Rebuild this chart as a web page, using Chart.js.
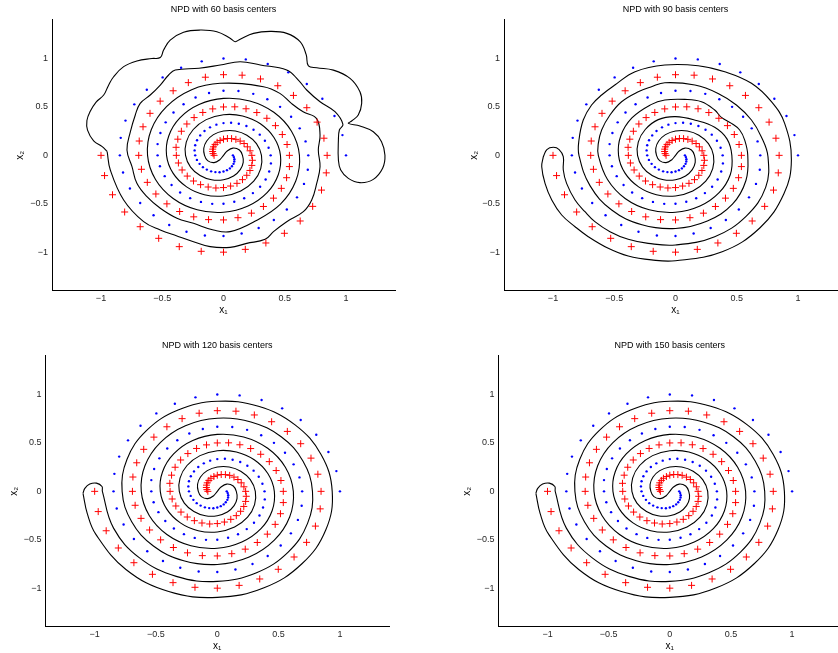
<!DOCTYPE html>
<html>
<head>
<meta charset="utf-8">
<title>NPD basis centers</title>
<script src="https://cdn.jsdelivr.net/npm/chart.js@4.4.1/dist/chart.umd.min.js"></script>
<style>
  html, body { margin: 0; padding: 0; background: #fff; width: 838px; height: 653px; overflow: hidden; }
  canvas { position: absolute; }
</style>
</head>
<body>
<canvas id="p60"></canvas>
<canvas id="p90"></canvas>
<canvas id="p120"></canvas>
<canvas id="p150"></canvas>
<script>
// two-spiral training points
const redX = [-1,-0.971,-0.906,-0.807,-0.680,-0.529,-0.361,-0.182,0,0.178,0.346,0.497,0.626,0.728,0.800,0.839,
  0.846,0.820,0.764,0.680,0.571,0.443,0.302,0.152,0,-0.148,-0.287,-0.411,-0.517,-0.600,-0.657,-0.688,
  -0.692,-0.670,-0.622,-0.552,-0.462,-0.358,-0.243,-0.122,0,0.118,0.228,0.326,0.408,0.472,0.515,0.538,
  0.538,0.519,0.480,0.424,0.354,0.272,0.184,0.092,0,-0.088,-0.169,-0.240,-0.299,-0.344,-0.373,-0.387,
  -0.385,-0.368,-0.338,-0.296,-0.245,-0.187,-0.125,-0.062,0,0.058,0.110,0.155,0.190,0.216,0.231,0.236,
  0.231,0.217,0.195,0.168,0.136,0.101,0.066,0.032,0,-0.028,-0.052,-0.069,-0.082,-0.088,-0.089,-0.085,-0.077];
const redY = [0,-0.209,-0.407,-0.585,-0.737,-0.857,-0.943,-0.991,-1,-0.971,-0.905,-0.805,-0.678,-0.527,-0.359,-0.181,
  0,0.177,0.343,0.492,0.619,0.719,0.789,0.828,0.833,0.807,0.751,0.667,0.560,0.434,0.295,0.148,
  0,-0.144,-0.279,-0.399,-0.501,-0.580,-0.635,-0.664,-0.667,-0.644,-0.597,-0.528,-0.442,-0.341,-0.231,-0.116,
  0,0.112,0.215,0.307,0.383,0.442,0.481,0.501,0.5,0.480,0.443,0.390,0.324,0.249,0.167,0.083,
  0,-0.079,-0.151,-0.214,-0.265,-0.303,-0.327,-0.337,-0.333,-0.317,-0.289,-0.251,-0.206,-0.156,-0.104,-0.051,
  0,0.047,0.088,0.122,0.147,0.165,0.173,0.174,0.167,0.153,0.135,0.113,0.088,0.064,0.040,0.018,0];
const blueX = [1,0.971,0.906,0.807,0.680,0.529,0.361,0.182,0,-0.178,-0.346,-0.497,-0.626,-0.728,-0.800,-0.839,
  -0.846,-0.820,-0.764,-0.680,-0.571,-0.443,-0.302,-0.152,0,0.148,0.287,0.411,0.517,0.600,0.657,0.688,
  0.692,0.670,0.622,0.552,0.462,0.358,0.243,0.122,0,-0.118,-0.228,-0.326,-0.408,-0.472,-0.515,-0.538,
  -0.538,-0.519,-0.480,-0.424,-0.354,-0.272,-0.184,-0.092,0,0.088,0.169,0.240,0.299,0.344,0.373,0.387,
  0.385,0.368,0.338,0.296,0.245,0.187,0.125,0.062,0,-0.058,-0.110,-0.155,-0.190,-0.216,-0.231,-0.236,
  -0.231,-0.217,-0.195,-0.168,-0.136,-0.101,-0.066,-0.032,0,0.028,0.052,0.069,0.082,0.088,0.089,0.085,0.077];
const blueY = [0,0.209,0.407,0.585,0.737,0.857,0.943,0.991,1,0.971,0.905,0.805,0.678,0.527,0.359,0.181,
  0,-0.177,-0.343,-0.492,-0.619,-0.719,-0.789,-0.828,-0.833,-0.807,-0.751,-0.667,-0.560,-0.434,-0.295,-0.148,
  0,0.144,0.279,0.399,0.501,0.580,0.635,0.664,0.667,0.644,0.597,0.528,0.442,0.341,0.231,0.116,
  0,-0.112,-0.215,-0.307,-0.383,-0.442,-0.481,-0.501,-0.5,-0.480,-0.443,-0.390,-0.324,-0.249,-0.167,-0.083,
  0,0.079,0.151,0.214,0.265,0.303,0.327,0.337,0.333,0.317,0.289,0.251,0.206,0.156,0.104,0.051,
  0,-0.047,-0.088,-0.122,-0.147,-0.165,-0.173,-0.174,-0.167,-0.153,-0.135,-0.113,-0.088,-0.064,-0.040,-0.018,0];

const xTicks = [-1, -0.5, 0, 0.5, 1];
const yTicks = [-1, -0.5, 0, 0.5, 1];
const titles = ['NPD with 60 basis centers', 'NPD with 90 basis centers',
                'NPD with 120 basis centers', 'NPD with 150 basis centers'];

// decision boundaries (closed contours), [x1, x2]
const boundary60 = [
  [-0.95,0.04],[-0.99,0.09],[-1.06,0.15],[-1.11,0.26],[-1.115,0.36],[-1.09,0.45],[-1.04,0.55],[-0.978,0.623],
  [-0.94,0.72],[-0.897,0.812],[-0.815,0.916],[-0.707,0.975],[-0.584,1.0],[-0.516,1.01],[-0.489,1.088],
  [-0.435,1.191],[-0.326,1.272],[-0.19,1.294],[-0.054,1.277],[0.054,1.21],[0.095,1.174],[0.136,1.2],
  [0.245,1.26],[0.38,1.28],[0.516,1.26],[0.625,1.174],[0.675,1.04],[0.693,0.925],[0.761,0.905],[0.897,0.88],
  [1.033,0.795],[1.114,0.657],[1.128,0.537],[1.1,0.417],[1.046,0.355],[1.02,0.33],
  [1.114,0.303],[1.223,0.244],[1.29,0.141],[1.318,0],[1.299,-0.134],[1.223,-0.248],[1.114,-0.282],
  [1.019,-0.238],[0.957,-0.151],[0.938,-0.048],[0.938,0.158],[0.946,0.262],[0.975,0.32],
  [0.91,0.451],[0.788,0.554],[0.679,0.675],[0.611,0.778],[0.516,0.881],[0.3,0.933],[0.136,0.967],
  [-0.027,0.933],[-0.2,0.9],[-0.394,0.881],[-0.448,0.83],[-0.516,0.726],[-0.598,0.623],[-0.68,0.537],
  [-0.72,0.417],[-0.76,0.244],[-0.788,0.055],[-0.747,-0.117],[-0.707,-0.289],[-0.625,-0.427],
  [-0.516,-0.547],[-0.38,-0.65],[-0.245,-0.702],[-0.082,-0.771],[0.054,-0.788],
  [0.26,-0.678],[0.465,-0.504],[0.59,-0.265],[0.62,0],[0.555,0.249],[0.411,0.445],[0.215,0.562],[0,0.588],
  [-0.2,0.524],[-0.356,0.386],[-0.447,0.2],[-0.465,0],[-0.412,-0.184],[-0.301,-0.326],[-0.156,-0.407],
  [0,-0.42],[0.141,-0.369],[0.247,-0.267],[0.304,-0.137],[0.31,0],[0.269,0.121],[0.191,0.208],[0.097,0.252],
  [0,0.252],[-0.082,0.214],[-0.137,0.148],[-0.161,0.073],[-0.155,0],
  [-0.13,-0.055],[-0.077,-0.075],[-0.03,-0.045],[0,0],[0.03,0.045],[0.077,0.075],[0.13,0.055],
  [0.155,0],[0.161,-0.073],[0.137,-0.148],[0.082,-0.214],[0,-0.252],[-0.097,-0.252],[-0.191,-0.208],
  [-0.269,-0.121],[-0.31,0],[-0.304,0.137],[-0.247,0.267],[-0.141,0.369],[0,0.42],[0.156,0.407],
  [0.301,0.326],[0.412,0.184],[0.465,0],[0.447,-0.2],[0.356,-0.386],[0.2,-0.524],[0,-0.588],
  [-0.215,-0.562],[-0.411,-0.445],[-0.555,-0.249],[-0.62,0],[-0.59,0.265],[-0.465,0.504],[-0.26,0.678],
  [-0.027,0.744],[0.326,0.709],[0.46,0.64],[0.554,0.537],[0.65,0.45],[0.76,0.38],[0.788,0.21],[0.774,0.055],
  [0.788,-0.117],[0.761,-0.289],[0.72,-0.461],[0.652,-0.582],[0.516,-0.685],[0.408,-0.788],[0.34,-0.867],
  [0.19,-0.909],[0.054,-0.95],[-0.109,-0.943],[-0.245,-0.892],[-0.38,-0.833],[-0.516,-0.771],
  [-0.652,-0.685],[-0.815,-0.461],[-0.924,-0.151],[-0.95,0.04]
];

const boundary90 = [
  [-1.079,-0.014],[-1.092,-0.117],[-1.065,-0.289],[-1.01,-0.461],[-0.929,-0.616],[-0.82,-0.737],
  [-0.712,-0.84],[-0.549,-0.96],[-0.386,-1.04],[-0.196,-1.08],[0,-1.088],[0.381,-0.996],[0.69,-0.748],
  [0.885,-0.397],[0.946,-0.048],[0.891,0.33],[0.783,0.554],[0.62,0.744],[0.402,0.864],[0.185,0.926],
  [-0.087,0.933],[-0.33,0.864],[-0.495,0.726],[-0.603,0.623],[-0.685,0.52],[-0.753,0.365],[-0.788,0.158],
  [-0.788,0],[-0.698,-0.313],[-0.521,-0.564],[-0.274,-0.717],[0,-0.755],[0.26,-0.678],[0.465,-0.504],
  [0.575,-0.26],[0.59,0],[0.565,0.158],[0.524,0.262],[0.457,0.33],[0.375,0.392],[0.32,0.468],[0.212,0.554],
  [0.076,0.578],[-0.087,0.571],[-0.2,0.524],[-0.356,0.386],[-0.447,0.2],[-0.465,0],[-0.412,-0.184],
  [-0.301,-0.326],[-0.156,-0.407],[0,-0.42],[0.141,-0.369],[0.247,-0.267],[0.304,-0.137],[0.31,0],
  [0.269,0.121],[0.191,0.208],[0.097,0.252],[0,0.252],[-0.082,0.214],[-0.137,0.148],[-0.161,0.073],[-0.155,0],
  [-0.13,-0.055],[-0.077,-0.075],[-0.03,-0.045],[0,0],[0.03,0.045],[0.077,0.075],[0.13,0.055],
  [0.155,0],[0.161,-0.073],[0.137,-0.148],[0.082,-0.214],[0,-0.252],[-0.097,-0.252],[-0.191,-0.208],
  [-0.269,-0.121],[-0.31,0],[-0.304,0.137],[-0.247,0.267],[-0.141,0.369],[0,0.40],[0.17,0.36],[0.32,0.29],
  [0.42,0.17],[0.46,0],[0.447,-0.2],[0.356,-0.386],[0.2,-0.524],[0,-0.588],[-0.215,-0.562],[-0.411,-0.445],
  [-0.555,-0.249],[-0.63,0],[-0.63,0.124],[-0.603,0.262],[-0.535,0.417],[-0.44,0.554],[-0.304,0.657],
  [-0.196,0.709],[-0.087,0.75],[0.158,0.726],[0.348,0.64],[0.497,0.52],[0.62,0.365],[0.70,0.193],
  [0.755,-0.014],[0.736,-0.331],[0.578,-0.627],[0.32,-0.84],[0,-0.926],[-0.223,-0.909],[-0.386,-0.867],
  [-0.535,-0.788],[-0.658,-0.685],[-0.739,-0.582],[-0.82,-0.461],[-0.889,-0.289],[-0.916,-0.151],
  [-0.916,-0.014],[-0.95,0.06],[-0.997,0.083],[-1.05,0.06],[-1.079,-0.014]
];

const boundary120 = [
  [-1.095,-0.02],[-1.06,-0.23],[-0.99,-0.445],[-0.745,-0.807],[-0.396,-1.035],[0,-1.095],[0.381,-0.996],
  [0.69,-0.748],[0.885,-0.397],[0.937,0],[0.846,0.38],[0.634,0.687],[0.335,0.878],[0,0.93],[-0.32,0.84],
  [-0.578,0.627],[-0.736,0.331],[-0.776,0],[-0.698,-0.313],[-0.521,-0.564],[-0.274,-0.717],[0,-0.755],
  [0.26,-0.678],[0.465,-0.504],[0.59,-0.265],[0.62,0],[0.555,0.249],[0.411,0.445],[0.215,0.562],[0,0.588],
  [-0.2,0.524],[-0.356,0.386],[-0.447,0.2],[-0.465,0],[-0.412,-0.184],[-0.301,-0.326],[-0.156,-0.407],
  [0,-0.42],[0.141,-0.369],[0.247,-0.267],[0.304,-0.137],[0.31,0],[0.269,0.121],[0.191,0.208],[0.097,0.252],
  [0,0.252],[-0.082,0.214],[-0.137,0.148],[-0.161,0.073],[-0.155,0],
  [-0.13,-0.055],[-0.077,-0.075],[-0.03,-0.045],[0,0],[0.03,0.045],[0.077,0.075],[0.13,0.055],
  [0.155,0],[0.161,-0.073],[0.137,-0.148],[0.082,-0.214],[0,-0.252],[-0.097,-0.252],[-0.191,-0.208],
  [-0.269,-0.121],[-0.31,0],[-0.304,0.137],[-0.247,0.267],[-0.141,0.369],[0,0.42],[0.156,0.407],
  [0.301,0.326],[0.412,0.184],[0.465,0],[0.447,-0.2],[0.356,-0.386],[0.2,-0.524],[0,-0.588],
  [-0.215,-0.562],[-0.411,-0.445],[-0.555,-0.249],[-0.62,0],[-0.59,0.265],[-0.465,0.504],[-0.26,0.678],
  [0,0.755],[0.274,0.717],[0.521,0.564],[0.698,0.313],[0.776,0],[0.736,-0.331],[0.578,-0.627],[0.32,-0.84],
  [0,-0.93],[-0.335,-0.878],[-0.634,-0.687],[-0.846,-0.38],[-0.937,0],[-0.94,0.05],[-0.985,0.085],
  [-1.04,0.075],[-1.08,0.03],[-1.095,-0.02]
];

const boundary150 = [
  [-1.095,-0.02],[-1.06,-0.23],[-0.99,-0.445],[-0.745,-0.807],[-0.396,-1.035],[0,-1.095],[0.381,-0.996],
  [0.69,-0.748],[0.885,-0.397],[0.937,0],[0.846,0.38],[0.634,0.687],[0.335,0.878],[0,0.93],[-0.32,0.84],
  [-0.578,0.627],[-0.736,0.331],[-0.776,0],[-0.698,-0.313],[-0.521,-0.564],[-0.274,-0.717],[0,-0.755],
  [0.26,-0.678],[0.465,-0.504],[0.59,-0.265],[0.62,0],[0.555,0.249],[0.411,0.445],[0.215,0.562],[0,0.588],
  [-0.2,0.524],[-0.356,0.386],[-0.447,0.2],[-0.465,0],[-0.412,-0.184],[-0.301,-0.326],[-0.156,-0.407],
  [0,-0.42],[0.141,-0.369],[0.247,-0.267],[0.304,-0.137],[0.31,0],[0.269,0.121],[0.191,0.208],[0.097,0.252],
  [0,0.252],[-0.082,0.214],[-0.137,0.148],[-0.161,0.073],[-0.155,0],
  [-0.13,-0.055],[-0.077,-0.075],[-0.03,-0.045],[0,0],[0.03,0.045],[0.077,0.075],[0.13,0.055],
  [0.155,0],[0.161,-0.073],[0.137,-0.148],[0.082,-0.214],[0,-0.252],[-0.097,-0.252],[-0.191,-0.208],
  [-0.269,-0.121],[-0.31,0],[-0.304,0.137],[-0.247,0.267],[-0.141,0.369],[0,0.42],[0.156,0.407],
  [0.301,0.326],[0.412,0.184],[0.465,0],[0.447,-0.2],[0.356,-0.386],[0.2,-0.524],[0,-0.588],
  [-0.215,-0.562],[-0.411,-0.445],[-0.555,-0.249],[-0.62,0],[-0.59,0.265],[-0.465,0.504],[-0.26,0.678],
  [0,0.755],[0.274,0.717],[0.521,0.564],[0.698,0.313],[0.776,0],[0.736,-0.331],[0.578,-0.627],[0.32,-0.84],
  [0,-0.93],[-0.335,-0.878],[-0.634,-0.687],[-0.846,-0.38],[-0.937,0],[-0.94,0.05],[-0.985,0.085],
  [-1.04,0.075],[-1.08,0.03],[-1.095,-0.02]
];

Chart.defaults.font.family = '"Liberation Sans", Arial, Helvetica, sans-serif';
Chart.defaults.color = '#262626';

const PLOT_W = 343.5, PLOT_H = 271.1, TITLE_H = 19.8, CANVAS_H = 325;

const panels = [
  { id: 'p60',  curve: boundary60,  title: titles[0], left: 0,   top: 0,   width: 400, axisW: 52,   yTitleX: 20 },
  { id: 'p90',  curve: boundary90,  title: titles[1], left: 452, top: 0,   width: 400, axisW: 52,   yTitleX: 22.5 },
  { id: 'p120', curve: boundary120, title: titles[2], left: 0,   top: 336, width: 394, axisW: 45.6, yTitleX: 14 },
  { id: 'p150', curve: boundary150, title: titles[3], left: 452, top: 336, width: 394, axisW: 46.6, yTitleX: 15 }
];

const fmtTick = v => (v < 0 ? '\u2212' + Math.abs(v) : String(v));
const toPts = (xs, ys) => xs.map((x, i) => ({ x: x, y: ys[i] }));

function buildPanel(p) {
  const cv = document.getElementById(p.id);
  cv.width = p.width;
  cv.height = CANVAS_H;
  cv.style.left = p.left + 'px';
  cv.style.top = p.top + 'px';

  new Chart(cv, {
    type: 'scatter',
    data: {
      datasets: [
        { data: toPts(redX, redY), pointStyle: 'cross', pointRadius: 3.5, borderColor: '#ff0000',
          borderWidth: 1, showLine: false },
        { data: toPts(blueX, blueY), pointStyle: 'circle', pointRadius: 1.2, backgroundColor: '#0000ff',
          borderWidth: 0, showLine: false },
        { data: p.curve.map(c => ({ x: c[0], y: c[1] })), showLine: true, borderColor: '#000',
          borderWidth: 1.1, pointRadius: 0, tension: 0.4, fill: false }
      ]
    },
    options: {
      responsive: false,
      animation: false,
      events: [],
      layout: { padding: { left: 0, top: 0, bottom: 0, right: p.width - p.axisW - PLOT_W } },
      plugins: {
        legend: { display: false },
        tooltip: { enabled: false },
        title: {
          display: true, text: p.title, fullSize: false, color: '#000',
          font: { size: 9, weight: 'normal' }, padding: { top: 4, bottom: 5 }
        }
      },
      scales: {
        x: {
          type: 'linear', min: -1.4, max: 1.4,
          grid: { display: false, drawTicks: false },
          border: { display: true, color: '#000', width: 1 },
          ticks: { autoSkip: false, maxRotation: 0, padding: 2, font: { size: 9 }, callback: fmtTick },
          afterBuildTicks: s => { s.ticks = xTicks.map(v => ({ value: v })); },
          afterFit: s => { s.height = CANVAS_H - TITLE_H - PLOT_H; },
          title: { display: true, text: 'x\u2081', color: '#000', font: { size: 10 }, padding: { top: 0, bottom: 9 } }
        },
        y: {
          type: 'linear', min: -1.4, max: 1.4,
          grid: { display: false, drawTicks: false },
          border: { display: true, color: '#000', width: 1 },
          ticks: { autoSkip: false, padding: 4, font: { size: 9 }, callback: fmtTick },
          afterBuildTicks: s => { s.ticks = yTicks.map(v => ({ value: v })); },
          afterFit: s => { s.width = p.axisW; },
          title: { display: true, text: 'x\u2082', color: '#000', font: { size: 10 }, padding: { top: p.yTitleX - 6, bottom: 0 } }
        }
      }
    }
  });
}

panels.forEach(buildPanel);
</script>
</body>
</html>
